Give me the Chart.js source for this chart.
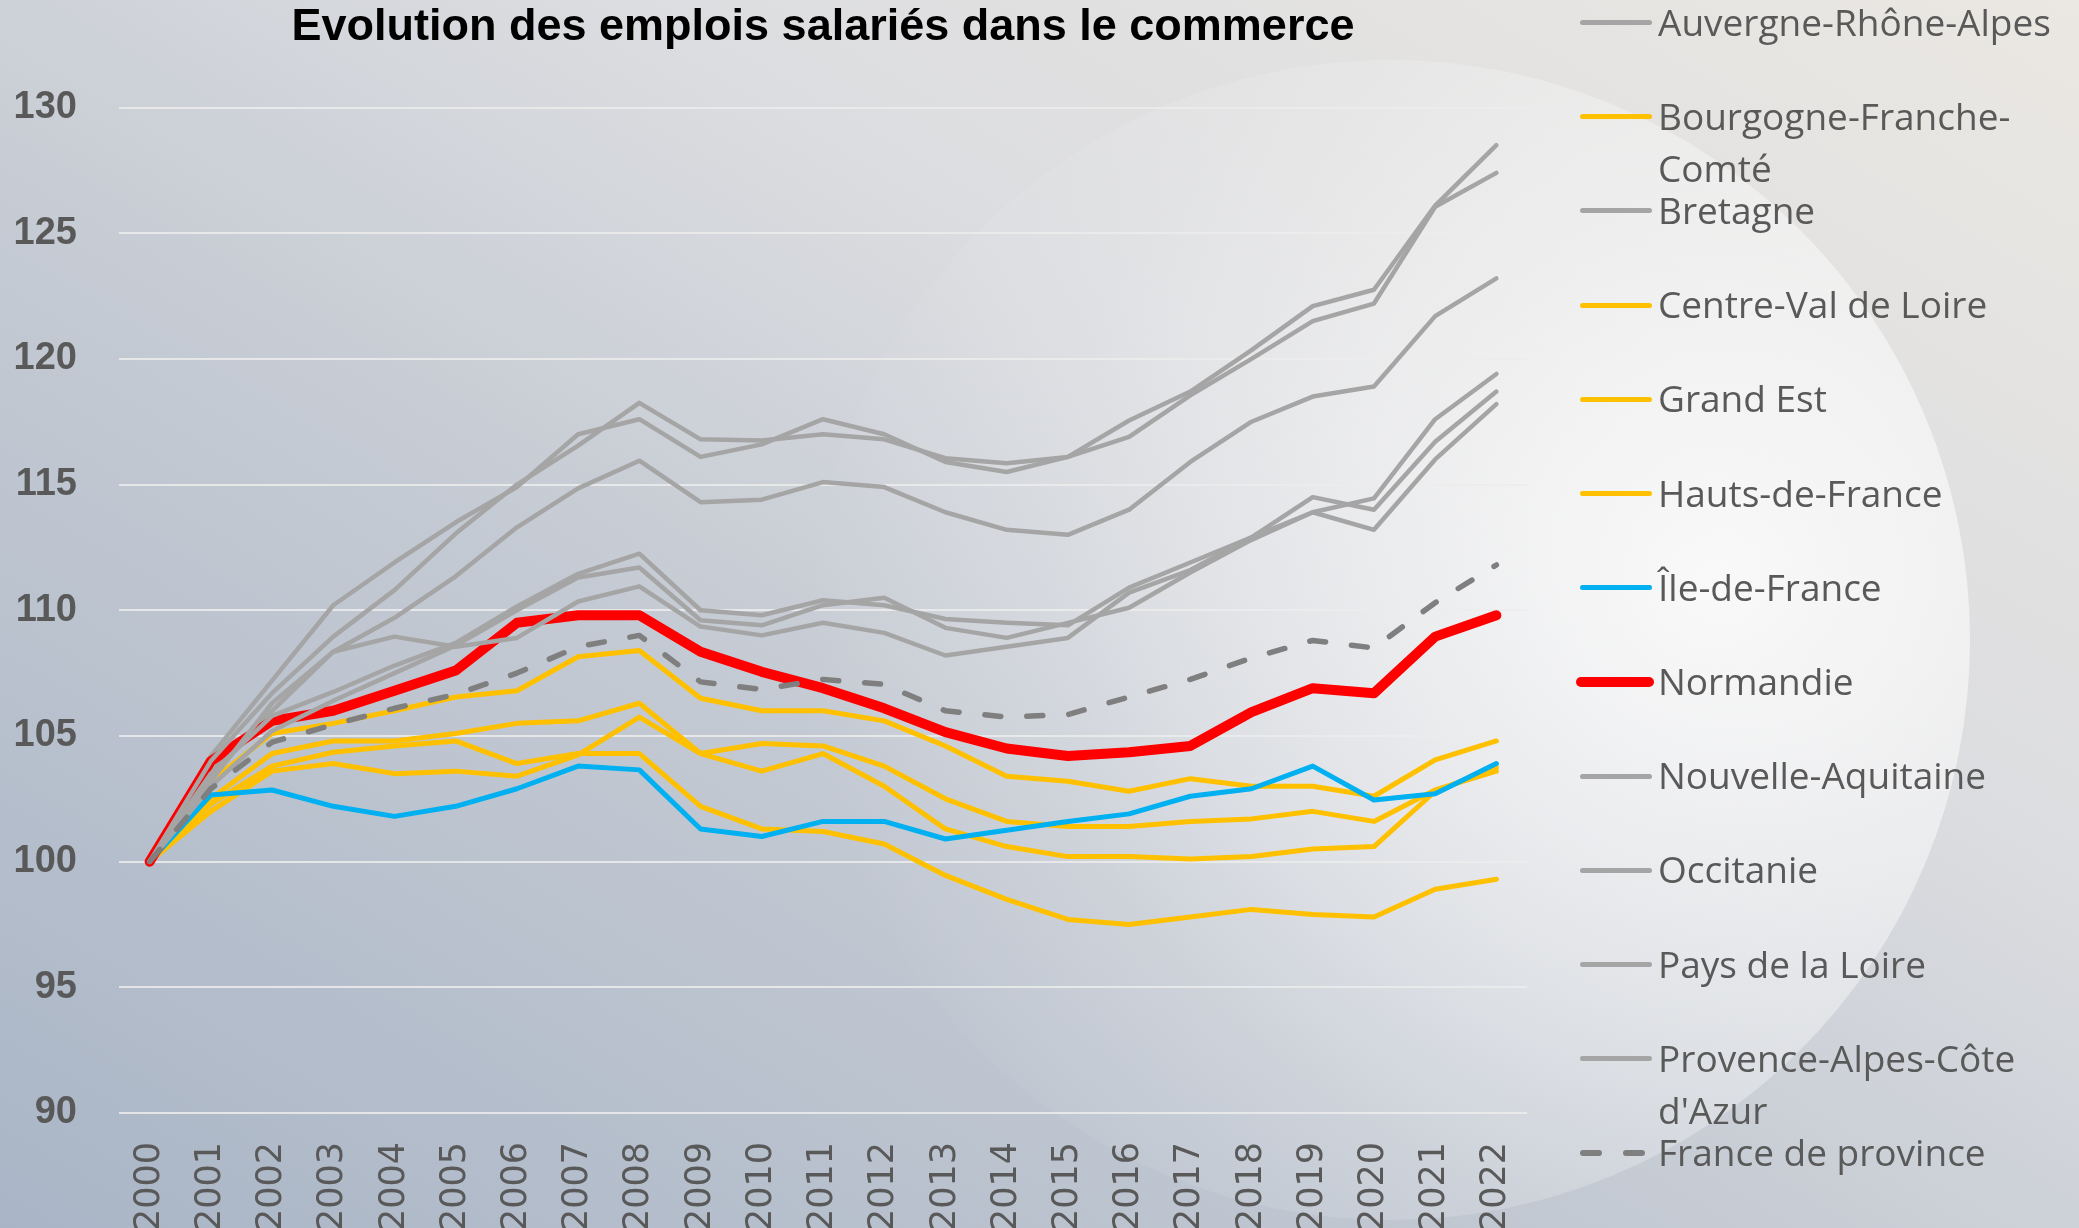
<!DOCTYPE html>
<html lang="fr">
<head>
<meta charset="utf-8">
<title>Evolution des emplois salariés dans le commerce</title>
<script src="https://cdn.jsdelivr.net/npm/chart.js@4.4.1/dist/chart.umd.min.js"></script>
<style>
  html, body { margin: 0; padding: 0; }
  body {
    width: 2079px; height: 1228px; overflow: hidden; position: relative;
    background: linear-gradient(to top right, #a9b5c6 0%, #c4cad3 40%, #dcdde0 65%, #ebe8e3 100%);
  }
  #glow {
    position: absolute; left: 810px; top: 60px; width: 1160px; height: 1160px; border-radius: 50%;
    background: radial-gradient(circle at 78% 45%, rgba(255,255,255,0.82) 0%, rgba(250,250,250,0.66) 23%, rgba(240,241,243,0.22) 60%, rgba(230,232,236,0) 82%);
  }
  #chart { position: absolute; left: 0; top: 0; }
  #legend { position: absolute; left: 0; top: 0; }
  .leg-line { position: absolute; height: 5px; border-radius: 3px; }
  .leg-text {
    position: absolute; left: 1658px; width: 415px;
    font-family: 'Open Sans', sans-serif; font-size: 37px; line-height: 52px; color: #595959;
  }
</style>
</head>
<body>
<div id="glow"></div>
<canvas id="chart" width="2079" height="1228"></canvas>
<div id="legend"></div>
<script>
  // indice base 100 en 2000
  const years = ['2000', '2001', '2002', '2003', '2004', '2005', '2006', '2007', '2008', '2009', '2010', '2011',
    '2012', '2013', '2014', '2015', '2016', '2017', '2018', '2019', '2020', '2021', '2022'];

  const auvergneRhoneAlpes = [100, 103.6, 106.0, 108.35, 109.7, 111.35, 113.3, 114.85, 115.95, 114.3, 114.4, 115.1,
    114.9, 113.9, 113.2, 113.0, 114.0, 115.9, 117.5, 118.5, 118.9, 121.7, 123.2];
  const bourgogneFrancheComte = [100, 102.3, 103.8, 104.35, 104.6, 104.8, 103.9, 104.3, 104.3, 102.2, 101.3, 101.2,
    100.7, 99.45, 98.5, 97.7, 97.5, 97.8, 98.1, 97.9, 97.8, 98.9, 99.3];
  const bretagne = [100, 104.2, 107.2, 110.2, 111.9, 113.5, 114.9, 117.0, 117.6, 116.1, 116.6, 117.6,
    117.0, 115.9, 115.5, 116.1, 116.9, 118.55, 120.0, 121.5, 122.2, 126.05, 127.4];
  const centreValDeLoire = [100, 102.5, 104.3, 104.8, 104.8, 105.1, 105.5, 105.6, 106.3, 104.3, 103.6, 104.3,
    103.0, 101.3, 100.6, 100.2, 100.2, 100.1, 100.2, 100.5, 100.6, 102.8, 103.75];
  const grandEst = [100, 102.0, 103.6, 103.9, 103.5, 103.6, 103.4, 104.25, 105.75, 104.3, 104.7, 104.6,
    103.8, 102.5, 101.6, 101.4, 101.4, 101.6, 101.7, 102.0, 101.6, 102.85, 103.6];
  const hautsDeFrance = [100, 103.2, 105.1, 105.5, 106.0, 106.55, 106.8, 108.15, 108.4, 106.5, 106.0, 106.0,
    105.6, 104.6, 103.4, 103.2, 102.8, 103.3, 103.0, 103.0, 102.6, 104.05, 104.8];
  const ileDeFrance = [100, 102.65, 102.85, 102.2, 101.8, 102.2, 102.9, 103.8, 103.65, 101.3, 101.0, 101.6,
    101.6, 100.9, 101.25, 101.6, 101.9, 102.6, 102.9, 103.8, 102.45, 102.7, 103.9];
  const normandie = [100, 104.0, 105.6, 106.0, 106.8, 107.6, 109.5, 109.8, 109.8, 108.35, 107.55, 106.9,
    106.1, 105.15, 104.5, 104.2, 104.35, 104.6, 105.95, 106.9, 106.7, 108.95, 109.8];
  const nouvelleAquitaine = [100, 103.5, 105.8, 106.75, 107.8, 108.7, 110.15, 111.45, 112.25, 110.0, 109.8, 110.4,
    110.2, 109.65, 109.5, 109.4, 110.9, 111.9, 112.9, 114.5, 114.0, 116.7, 118.7];
  const occitanie = [100, 104.0, 106.7, 108.95, 110.8, 113.05, 115.0, 116.55, 118.25, 116.8, 116.75, 117.0,
    116.8, 116.05, 115.85, 116.1, 117.55, 118.7, 120.35, 122.1, 122.75, 126.1, 128.5];
  const paysDeLaLoire = [100, 103.0, 105.2, 106.4, 107.5, 108.6, 110.0, 111.3, 111.7, 109.6, 109.4, 110.2,
    110.5, 109.3, 108.9, 109.5, 110.1, 111.5, 112.8, 113.9, 114.45, 117.6, 119.4];
  const provenceAlpesCoteDAzur = [100, 103.2, 106.3, 108.35, 108.95, 108.55, 108.9, 110.35, 110.95, 109.35, 109.0, 109.5,
    109.1, 108.2, 108.55, 108.9, 110.7, 111.6, 112.9, 113.9, 113.2, 116.0, 118.2];
  const franceDeProvince = [100, 102.9, 104.75, 105.45, 106.1, 106.65, 107.5, 108.55, 109.0, 107.15, 106.85, 107.25,
    107.05, 106.0, 105.75, 105.85, 106.55, 107.25, 108.1, 108.8, 108.5, 110.3, 111.8];

  const yMin = 90, yMax = 130, yStep = 5;

  const GRAY = '#a5a5a5', YELLOW = '#ffc000', BLUE = '#00b0f0', RED = '#ff0000', DASH = '#7f7f7f';

  const series = [
    { label: 'Auvergne-Rhône-Alpes', data: auvergneRhoneAlpes, color: GRAY, width: 4.5 },
    { label: 'Bourgogne-Franche-Comté', data: bourgogneFrancheComte, color: YELLOW, width: 5 },
    { label: 'Bretagne', data: bretagne, color: GRAY, width: 4.5 },
    { label: 'Centre-Val de Loire', data: centreValDeLoire, color: YELLOW, width: 5 },
    { label: 'Grand Est', data: grandEst, color: YELLOW, width: 5 },
    { label: 'Hauts-de-France', data: hautsDeFrance, color: YELLOW, width: 5 },
    { label: 'Île-de-France', data: ileDeFrance, color: BLUE, width: 5 },
    { label: 'Normandie', data: normandie, color: RED, width: 10 },
    { label: 'Nouvelle-Aquitaine', data: nouvelleAquitaine, color: GRAY, width: 4.5 },
    { label: 'Occitanie', data: occitanie, color: GRAY, width: 4.5 },
    { label: 'Pays de la Loire', data: paysDeLaLoire, color: GRAY, width: 4.5 },
    { label: "Provence-Alpes-Côte d'Azur", data: provenceAlpesCoteDAzur, color: GRAY, width: 4.5 },
    { label: 'France de province', data: franceDeProvince, color: DASH, width: 5.5, dash: [16, 26] }
  ];

  const datasets = series.map((s, i) => ({
    label: s.label,
    data: s.data,
    borderColor: s.color,
    backgroundColor: s.color,
    borderWidth: s.width,
    borderDash: s.dash || [],
    borderCapStyle: 'round',
    borderJoinStyle: 'round',
    pointRadius: 0,
    tension: 0,
    fill: false,
    order: series.length - i   // les dernières séries passent au-dessus, comme dans Excel
  }));

  new Chart(document.getElementById('chart'), {
    type: 'line',
    data: { labels: years, datasets },
    options: {
      responsive: false,
      animation: false,
      layout: { padding: { top: 0, left: 0, right: 552, bottom: 0 } },
      plugins: {
        legend: { display: false },
        tooltip: { enabled: false },
        title: {
          display: true,
          text: 'Evolution des emplois salariés dans le commerce',
          fullSize: false,
          color: '#000000',
          padding: { top: 1, bottom: 52.5 },
          font: { family: 'Liberation Sans', size: 45, weight: 'bold', lineHeight: 1.2 }
        }
      },
      scales: {
        x: {
          offset: true,
          grid: { display: false },
          border: { display: false },
          ticks: {
            autoSkip: false,
            minRotation: 90,
            maxRotation: 90,
            padding: 21,
            color: '#595959',
            font: { family: 'DejaVu Sans', size: 35 }
          },
          afterFit: s => { s.height = 115; }
        },
        y: {
          min: yMin,
          max: yMax,
          grid: { color: 'rgba(236,236,236,0.85)', lineWidth: 2, drawTicks: false },
          border: { display: false },
          ticks: {
            stepSize: yStep,
            padding: 42,
            color: '#595959',
            font: { family: 'Liberation Sans', size: 38, weight: 'bold' }
          },
          afterFit: s => { s.width = 119; }
        }
      }
    }
  });

  // légende à droite, avec retour à la ligne comme l'original
  const legend = document.getElementById('legend');
  const legTop = 22.5, legStep = 94.2;
  series.forEach((s, i) => {
    const cy = legTop + i * legStep;
    if (s.dash) {
      [[1580, 22], [1623, 22]].forEach(([x, w]) => {
        const d = document.createElement('div');
        d.className = 'leg-line';
        d.style.cssText = `left:${x}px;width:${w}px;top:${cy - 2.75}px;height:5.5px;background:${s.color}`;
        legend.appendChild(d);
      });
    } else {
      const h = s.width >= 8 ? 10 : 5;
      const d = document.createElement('div');
      d.className = 'leg-line';
      d.style.cssText = `left:${h > 5 ? 1576 : 1580}px;width:${h > 5 ? 78 : 72}px;top:${cy - h / 2}px;height:${h}px;border-radius:${h / 2}px;background:${s.color}`;
      legend.appendChild(d);
    }
    const t = document.createElement('div');
    t.className = 'leg-text';
    t.style.top = (cy - 27) + 'px';
    t.textContent = s.label;
    legend.appendChild(t);
  });
</script>
</body>
</html>
